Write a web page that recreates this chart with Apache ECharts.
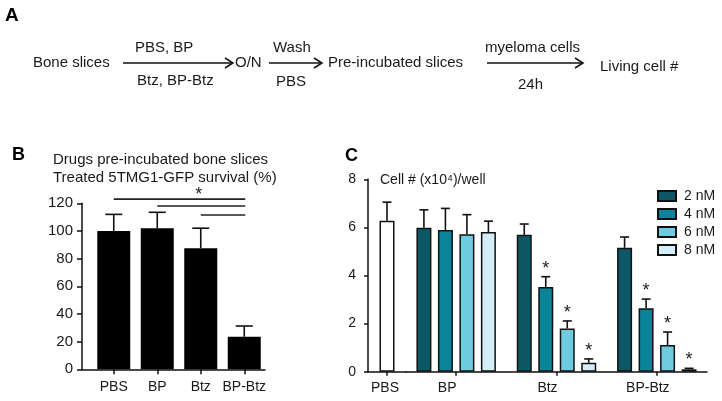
<!DOCTYPE html>
<html><head><meta charset="utf-8">
<script src="https://cdn.jsdelivr.net/npm/echarts@6/dist/echarts.min.js"></script>
<style>html,body{margin:0;padding:0;background:#fff}#c{width:722px;height:401px}</style>
</head><body><div id="c"></div>
<script>
// ---------- Panel B data ----------
const catsB = ['PBS', 'BP', 'Btz', 'BP-Btz'];
const survivalB = [100, 102, 87.5, 23.5];
const survivalErrB = [12, 11.5, 14.5, 7.8];
const sigFromB = ['PBS', 'BP', 'Btz'];
const sigToB = 'BP-Btz';
const sigLevelB = [123, 118, 111.5];
const sigStarB = ['Btz', 128];
const titleB = ['Drugs pre-incubated bone slices', 'Treated 5TMG1-GFP survival (%)'];

// ---------- Panel C data ----------
const catsCtrl = ['PBS'];
const catsC = ['BP', 'Btz', 'BP-Btz'];
const concNames = ['2 nM', '4 nM', '6 nM', '8 nM'];
const pbsCell = [6.28];
const pbsCellErr = [0.77];
const cell2nM = [5.99, 5.69, 5.15];
const cell4nM = [5.89, 3.52, 2.64];
const cell6nM = [5.71, 1.80, 1.11];
const cell8nM = [5.81, 0.37, 0.10];
const err2nM = [0.74, 0.45, 0.45];
const err4nM = [0.90, 0.43, 0.38];
const err6nM = [0.82, 0.31, 0.54];
const err8nM = [0.45, 0.16, 0.04];
const sig2nM = [0, 0, 0];
const sig4nM = [0, 1, 1];
const sig6nM = [0, 1, 1];
const sig8nM = [0, 1, 1];
const titleC = 'Cell # (x10\u2074)/well';

// ---------- Panel A text ----------
const flowMain = ['Bone slices', 'O/N', 'Pre-incubated slices', 'Living cell #'];
const flowAbove = ['PBS, BP', 'Wash', 'myeloma cells'];
const flowBelow = ['Btz, BP-Btz', 'PBS', '24h'];

const FONT = '"Liberation Sans", Arial, sans-serif';
const INK = '#1a1a1a';
const concColors = ['#0d5866', '#0a8499', '#6fcbdf', '#d3eef6'];

const chart = echarts.init(document.getElementById('c'), null, {renderer: 'canvas'});

function errRender(offsetPx, capHalf, starSize) {
  return function (params, api) {
    const x = api.value(0), v = api.value(1), e = api.value(2), s = api.value(3);
    const p0 = api.coord([x, v]);
    const p1 = api.coord([x, v + e]);
    const cx = p0[0] + offsetPx;
    const ch = [
      {type: 'line', shape: {x1: cx, y1: p0[1], x2: cx, y2: p1[1]}, style: {stroke: '#111', lineWidth: 1.6}},
      {type: 'line', shape: {x1: cx - capHalf, y1: p1[1], x2: cx + capHalf, y2: p1[1]}, style: {stroke: '#111', lineWidth: 1.6}}
    ];
    if (s) {
      ch.push({type: 'text', x: cx, y: p1[1] - 17,
        style: {text: '*', fontSize: starSize, fontFamily: FONT, fill: INK, align: 'center', verticalAlign: 'top'}});
    }
    return {type: 'group', children: ch};
  };
}

const concVals = [cell2nM, cell4nM, cell6nM, cell8nM];
const concErrs = [err2nM, err4nM, err6nM, err8nM];
const concSig = [sig2nM, sig4nM, sig6nM, sig8nM];
const BARW_C = 15, STEP_C = 21.5;

const series = [];
// Panel B bars
series.push({type: 'bar', xAxisIndex: 1, yAxisIndex: 1, data: survivalB, barWidth: 33,
  itemStyle: {color: '#000'}, silent: true, animation: false});
series.push({type: 'custom', xAxisIndex: 1, yAxisIndex: 1, animation: false, silent: true,
  data: survivalB.map((v, i) => [i, v, survivalErrB[i], 0]),
  encode: {x: 0, y: 1}, renderItem: errRender(0, 8.5, 18), z: 3});
// significance lines B
series.push({type: 'custom', xAxisIndex: 1, yAxisIndex: 1, animation: false, silent: true, clip: false,
  data: sigFromB.map((f, i) => [catsB.indexOf(f), catsB.indexOf(sigToB), sigLevelB[i]]),
  encode: {x: [0, 1], y: 2},
  renderItem: function (params, api) {
    const a = api.coord([api.value(0), api.value(2)]);
    const b = api.coord([api.value(1), api.value(2)]);
    return {type: 'line', shape: {x1: a[0], y1: a[1], x2: b[0] + 1, y2: b[1]}, style: {stroke: '#222', lineWidth: 1.6}};
  }});
series.push({type: 'custom', xAxisIndex: 1, yAxisIndex: 1, animation: false, silent: true, clip: false,
  data: [[catsB.indexOf(sigStarB[0]), sigStarB[1]]], encode: {x: 0, y: 1},
  renderItem: function (params, api) {
    const p = api.coord([api.value(0), api.value(1)]);
    return {type: 'text', x: p[0] - 2, y: p[1] - 6,
      style: {text: '*', fontSize: 18, fontFamily: FONT, fill: INK, align: 'center', verticalAlign: 'top'}};
  }});

// Panel C: PBS
series.push({type: 'bar', name: 'PBS', xAxisIndex: 2, yAxisIndex: 2, data: pbsCell, barWidth: BARW_C,
  itemStyle: {color: '#fff', borderColor: '#111', borderWidth: 1.5}, silent: true, animation: false});
series.push({type: 'custom', xAxisIndex: 2, yAxisIndex: 2, animation: false, silent: true,
  data: pbsCell.map((v, i) => [i, v, pbsCellErr[i], 0]), encode: {x: 0, y: 1},
  renderItem: errRender(0, 4.5, 18), z: 3});
// Panel C: concentrations
concNames.forEach((n, k) => {
  series.push({type: 'bar', name: n, xAxisIndex: 3, yAxisIndex: 3, data: concVals[k], barWidth: BARW_C,
    barGap: ((STEP_C - BARW_C) / BARW_C * 100).toFixed(1) + '%',
    itemStyle: {color: concColors[k], borderColor: '#111', borderWidth: 1.5}, silent: true, animation: false});
});
concNames.forEach((n, k) => {
  series.push({type: 'custom', xAxisIndex: 3, yAxisIndex: 3, animation: false, silent: true,
    data: concVals[k].map((v, i) => [i, v, concErrs[k][i], concSig[k][i]]), encode: {x: 0, y: 1},
    renderItem: errRender((k - 1.5) * STEP_C, 4.5, 18), z: 3});
});

const axisLineStyle = {color: '#111', width: 1.5};
const txt = (t, x, y, size) => ({type: 'text', x: x, y: y,
  style: {text: t, fontSize: size, fontFamily: FONT, fill: INK, verticalAlign: 'middle', align: 'left'}});
function arrow(x1, x2, y) {
  return {type: 'group', children: [
    {type: 'line', shape: {x1: x1, y1: y, x2: x2, y2: y}, style: {stroke: '#111', lineWidth: 1.5}},
    {type: 'polyline', shape: {points: [[x2 - 8, y - 5], [x2, y], [x2 - 8, y + 5]]}, style: {stroke: '#111', lineWidth: 1.5, fill: null}}
  ]};
}
const bold = (t, x, y, size) => ({type: 'text', x: x, y: y,
  style: {text: t, fontSize: size, fontWeight: 'bold', fontFamily: FONT, fill: '#000', verticalAlign: 'middle'}});

const graphics = [
  bold('A', 5, 16, 19),
  txt(flowMain[0], 33, 63, 15),
  arrow(123, 233, 63),
  txt(flowAbove[0], 135, 48, 15),
  txt(flowBelow[0], 137, 81, 15),
  txt(flowMain[1], 235, 63, 15),
  arrow(269, 322, 63),
  txt(flowAbove[1], 273, 48, 15),
  txt(flowBelow[1], 276, 82, 15),
  txt(flowMain[2], 328, 63, 15),
  arrow(487, 583, 63),
  txt(flowAbove[2], 485, 48, 15),
  txt(flowBelow[2], 518, 85, 15),
  txt(flowMain[3], 600, 67, 15),
  bold('B', 12, 155, 18),
  txt(titleB[0], 53, 160, 15),
  txt(titleB[1], 53, 178, 15),
  bold('C', 345, 156, 18),
  txt(titleC, 380, 180, 14)
];

const option = {
  backgroundColor: '#fff',
  animation: false,
  textStyle: {fontFamily: FONT},
  grid: [
    {left: 82, top: 203.3, width: 183, height: 166},
    {left: 92, top: 203.3, width: 174, height: 166},
    {left: 368, top: 179.3, width: 38, height: 192.4},
    {left: 406, top: 179.3, width: 301, height: 192.4}
  ],
  xAxis: [
    {gridIndex: 0, type: 'value', min: 0, max: 1, axisLine: {show: true, lineStyle: axisLineStyle},
      axisTick: {show: false}, axisLabel: {show: false}, splitLine: {show: false}},
    {gridIndex: 1, type: 'category', data: catsB, axisLine: {show: false},
      axisTick: {show: true, alignWithLabel: true, interval: 0, length: 5, lineStyle: axisLineStyle},
      axisLabel: {interval: 0, margin: 11, fontSize: 14, color: INK, fontFamily: FONT}},
    {gridIndex: 2, type: 'category', data: catsCtrl, axisLine: {show: true, lineStyle: axisLineStyle},
      axisTick: {show: true, alignWithLabel: true, interval: 0, length: 4, lineStyle: axisLineStyle},
      axisLabel: {interval: 0, margin: 9, fontSize: 14, color: INK, fontFamily: FONT, padding: [0, 4, 0, 0]}},
    {gridIndex: 3, type: 'category', data: catsC, axisLine: {show: true, lineStyle: axisLineStyle},
      axisTick: {show: true, alignWithLabel: true, interval: 0, length: 4, lineStyle: axisLineStyle},
      axisLabel: {interval: 0, margin: 9, fontSize: 14, color: INK, fontFamily: FONT, padding: [0, 18, 0, 0]}}
  ],
  yAxis: [
    {gridIndex: 0, type: 'value', min: 0, max: 120, interval: 20,
      axisLine: {show: true, lineStyle: axisLineStyle},
      axisTick: {show: true, length: 5, lineStyle: axisLineStyle},
      axisLabel: {margin: 9, fontSize: 15, color: INK, fontFamily: FONT}, splitLine: {show: false}},
    {gridIndex: 1, type: 'value', min: 0, max: 120, interval: 20, show: false, splitLine: {show: false}},
    {gridIndex: 2, type: 'value', min: 0, max: 8, interval: 2,
      axisLine: {show: true, lineStyle: axisLineStyle},
      axisTick: {show: true, length: 4, lineStyle: axisLineStyle},
      axisLabel: {margin: 12, fontSize: 14, color: INK, fontFamily: FONT}, splitLine: {show: false}},
    {gridIndex: 3, type: 'value', min: 0, max: 8, interval: 2, show: false, splitLine: {show: false}}
  ],
  legend: {
    data: concNames, orient: 'vertical', left: 657, top: 189, padding: 0,
    itemWidth: 18, itemHeight: 10, itemGap: 4, icon: 'rect',
    textStyle: {fontSize: 14, color: INK, fontFamily: FONT, padding: [0, 0, 0, 3]},
    selectedMode: false
  },
  series: series,
  graphic: graphics
};
chart.setOption(option);
</script>
</body></html>
